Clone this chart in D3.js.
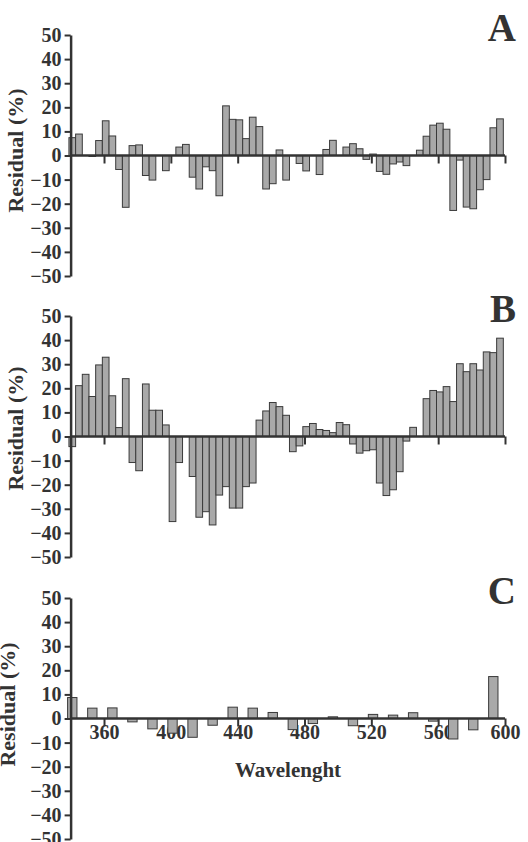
<!DOCTYPE html>
<html>
<head>
<meta charset="utf-8">
<script src="https://cdn.jsdelivr.net/npm/d3@7"></script>
<style>
  body { margin: 0; background: #fff; }
  svg text { font-family: "Liberation Serif", "Times New Roman", serif; font-weight: bold; fill: #333; }
</style>
</head>
<body>
<svg id="chart" width="528" height="842"></svg>
<script>
// wavelengths (nm) of the bars in panels A and B
const wavelengthsAB = [341, 345, 349, 353, 357, 361, 365, 369, 373, 377, 381, 385, 389, 393, 397,
  401, 405, 409, 413, 417, 421, 425, 429, 433, 437, 441, 445, 449, 453, 457, 461, 465, 469, 473, 477,
  481, 485, 489, 493, 497, 501, 505, 509, 513, 517, 521, 525, 529, 533, 537, 541, 545, 549, 553, 557,
  561, 565, 569, 573, 577, 581, 585, 589, 593, 597];

const residualA = [7.4, 8.9, 0, -0.4, 6.2, 14.4, 8.1, -5.8, -21.5, 4.1,
  4.4, -8.3, -10.2, 0, -6.3, 0, 3.5, 4.6, -9.0, -13.9,
  -4.7, -6.3, -16.7, 20.6, 15.0, 14.8, 7.0, 15.9, 12.0, -13.9,
  -11.7, 2.3, -10.2, 0, -3.3, -6.4, 0, -7.9, 2.5, 6.3,
  0, 3.5, 4.9, 2.8, -1.6, 0.6, -6.6, -7.8, -3.5, -2.7,
  -4.2, 0, 2.2, 8.0, 12.6, 13.4, 10.9, -22.8, -1.9, -21.4,
  -22.1, -14.2, -10.0, 11.5, 15.2];

const residualB = [-4.2, 21.1, 25.8, 16.6, 29.7, 32.9, 16.9, 3.7, 24.0, -10.8,
  -14.2, 21.8, 10.9, 10.9, 4.8, -35.3, -10.8, 0, -16.6, -33.5,
  -31.2, -36.7, -24.3, -20.8, -29.7, -29.7, -20.8, -19.3, 6.8, 10.6,
  14.1, 12.4, 8.8, -6.3, -3.9, 4.1, 5.4, 2.9, 2.5, 1.6,
  5.8, 4.9, -3.1, -6.9, -5.9, -5.5, -19.3, -24.5, -22.1, -14.6,
  -1.9, 3.8, 0, 15.7, 19.1, 18.5, 20.7, 14.5, 30.2, 26.9,
  30.2, 27.6, 35.1, 34.8, 40.8];

// panel C has fewer, wider bars
const wavelengthsC = [341, 353, 365, 377, 389, 401, 413, 425, 437, 449, 461,
  473, 485, 497, 509, 521, 533, 545, 557, 569, 581, 593];
const residualC = [8.7, 4.3, 4.4, -1.4, -4.3, -6.1, -7.8, -2.8, 4.7, 4.3, 2.5,
  -4.6, -2.1, 0.7, -3.0, 1.7, 1.4, 2.4, -1.1, -8.5, -4.7, 17.4];

const yTicks = [50, 40, 30, 20, 10, 0, -10, -20, -30, -40, -50];
const xTicks = [360, 400, 440, 480, 520, 560, 600];
const panelNames = ["A", "B", "C"];
const yTitle = "Residual (%)";
const xTitle = "Wavelenght";

const svg = d3.select("#chart");
const axisColor = "#333";

const x = d3.scaleLinear().domain([340, 600]).range([70.6, 505]);

const panels = [
  { wl: wavelengthsAB, vals: residualA, top: 35, barNm: 4, showX: false, titleX: 15, titleDy: -5 },
  { wl: wavelengthsAB, vals: residualB, top: 316, barNm: 4, showX: false, titleX: 15, titleDy: -8 },
  { wl: wavelengthsC, vals: residualC, top: 598, barNm: 5.6, showX: true, titleX: 7, titleDy: -14 }
];

panels.forEach((p, i) => {
  const y = d3.scaleLinear().domain([-50, 50]).range([p.top + 241, p.top]);
  const g = svg.append("g");

  // x axis ticks (drawn under the bars)
  const xAxis = d3.axisBottom(x)
    .tickValues(xTicks)
    .tickSize(8)
    .tickSizeOuter(0)
    .tickFormat(p.showX ? d3.format("d") : "");
  const xg = g.append("g")
    .attr("transform", `translate(0,${y(0)})`)
    .call(xAxis);
  xg.select(".domain").remove();
  xg.selectAll(".tick line").attr("stroke", axisColor).attr("stroke-width", 2);
  xg.selectAll("text")
    .attr("y", 6)
    .attr("font-size", 20)
    .attr("font-family", null)
    .style("fill", axisColor);

  // bars
  const bw = x(340 + p.barNm) - x(340);
  g.selectAll("rect.bar")
    .data(d3.zip(p.wl, p.vals))
    .join("rect")
    .attr("class", "bar")
    .attr("x", d => x(d[0]) - bw / 2)
    .attr("width", bw)
    .attr("y", d => y(Math.max(0, d[1])))
    .attr("height", d => Math.abs(y(d[1]) - y(0)))
    .attr("fill", "#a9a9a9")
    .attr("stroke", "#3a3a3a")
    .attr("stroke-width", 1);

  // zero line
  g.append("line")
    .attr("x1", x(340)).attr("x2", x(600))
    .attr("y1", y(0)).attr("y2", y(0))
    .attr("stroke", axisColor)
    .attr("stroke-width", 2.5);

  // y axis
  const yAxis = d3.axisLeft(y)
    .tickValues(yTicks)
    .tickSize(6)
    .tickSizeOuter(0)
    .tickPadding(3);
  const yg = g.append("g")
    .attr("transform", `translate(${x(340)},0)`)
    .call(yAxis);
  yg.select(".domain").attr("stroke", axisColor).attr("stroke-width", 2.5);
  yg.selectAll(".tick line").attr("stroke", axisColor).attr("stroke-width", 2);
  yg.selectAll("text")
    .attr("font-size", 20)
    .attr("font-family", null)
    .style("fill", axisColor);

  // y title
  g.append("text")
    .attr("transform", `translate(${p.titleX},${y(0) + p.titleDy}) rotate(-90)`)
    .attr("text-anchor", "middle")
    .attr("dominant-baseline", "central")
    .attr("font-size", 22)
    .text(yTitle);

  // panel letter
  g.append("text")
    .attr("x", 516)
    .attr("y", p.top + 6)
    .attr("text-anchor", "end")
    .attr("font-size", 39)
    .text(panelNames[i]);

  if (p.showX) {
    g.append("text")
      .attr("x", 288)
      .attr("y", y(0) + 58)
      .attr("text-anchor", "middle")
      .attr("font-size", 21)
      .text(xTitle);
  }
});
</script>
</body>
</html>
